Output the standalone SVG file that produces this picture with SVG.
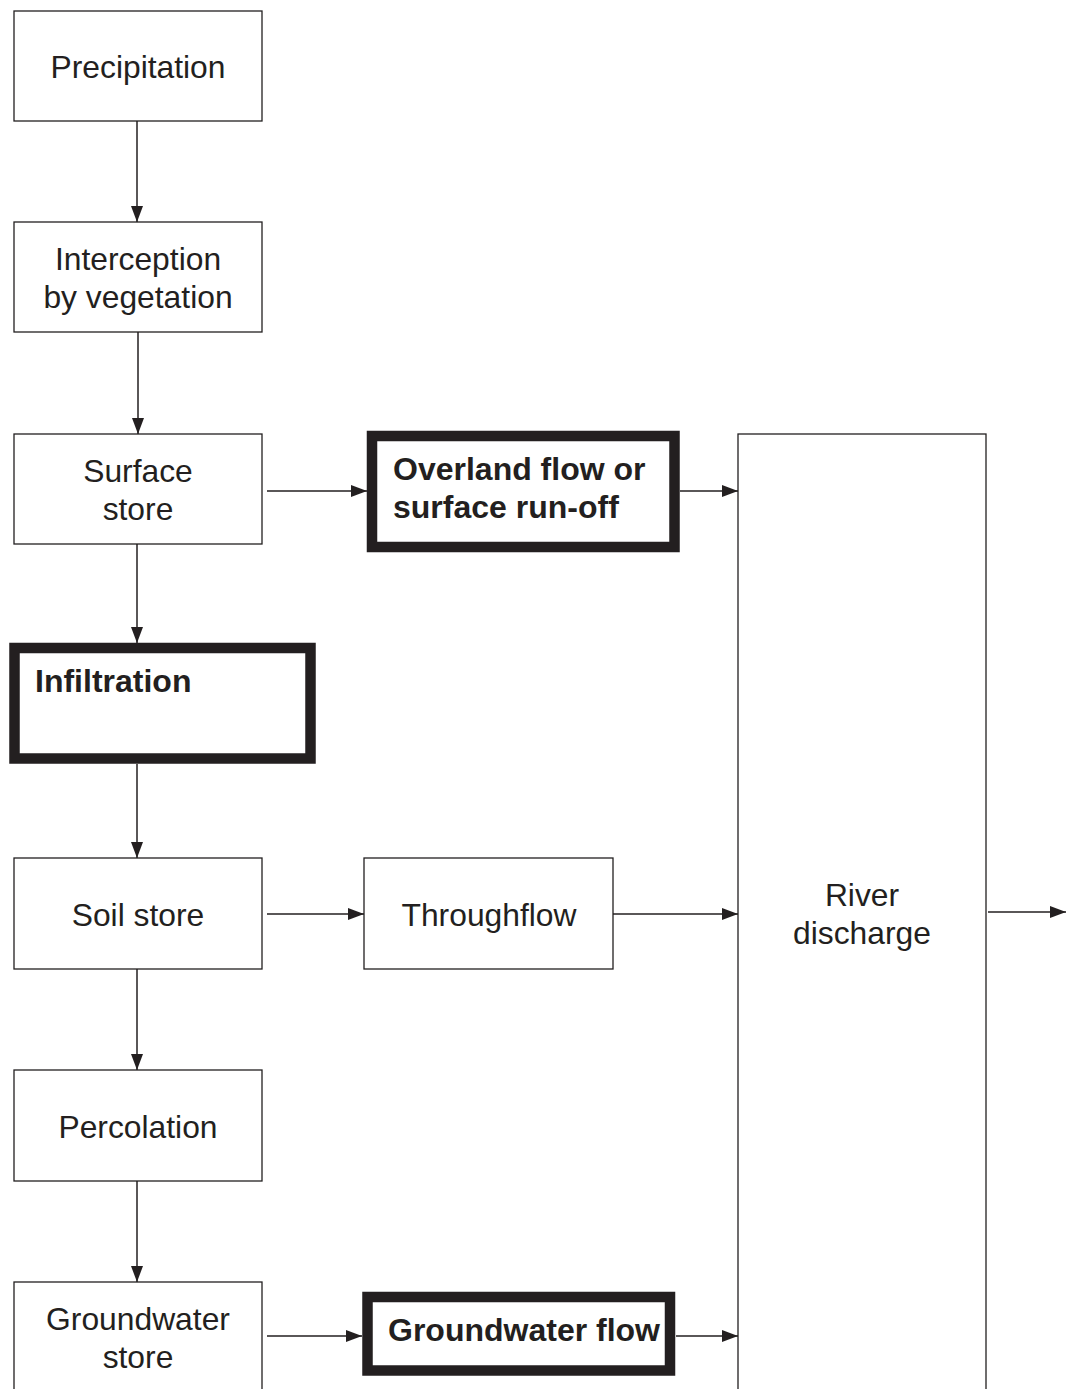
<svg xmlns="http://www.w3.org/2000/svg" width="1066" height="1389" viewBox="0 0 1066 1389">
<defs>
<marker id="ah" viewBox="0 0 16 12" refX="16" refY="6" markerWidth="16" markerHeight="12" markerUnits="userSpaceOnUse" orient="auto">
<path d="M0,0 L16,6 L0,12 Z" fill="#231f20"/>
</marker>
<style>
.box{fill:#fff;stroke:#231f20;stroke-width:1.3}
.thick{fill:#fff;stroke:#231f20;stroke-width:10.5}
.t{font-family:"Liberation Sans",Arial,sans-serif;font-size:31.8px;fill:#231f20;text-anchor:middle}
.b{font-family:"Liberation Sans",Arial,sans-serif;font-size:32px;font-weight:bold;fill:#231f20}
.c{stroke:#231f20;stroke-width:1.5;fill:none;marker-end:url(#ah)}
</style>
</defs>
<rect width="1066" height="1389" fill="#fff"/>
<g id="connectors">
<line class="c" x1="137" y1="121" x2="137" y2="222"/>
<line class="c" x1="138" y1="332" x2="138" y2="434"/>
<line class="c" x1="137" y1="544" x2="137" y2="643"/>
<line class="c" x1="137" y1="764" x2="137" y2="858"/>
<line class="c" x1="137" y1="969" x2="137" y2="1070"/>
<line class="c" x1="137" y1="1181" x2="137" y2="1282"/>
<line class="c" x1="267" y1="491" x2="367" y2="491"/>
<line class="c" x1="680" y1="491" x2="738" y2="491"/>
<line class="c" x1="267" y1="914" x2="364" y2="914"/>
<line class="c" x1="613" y1="914" x2="738" y2="914"/>
<line class="c" x1="267" y1="1336" x2="362" y2="1336"/>
<line class="c" x1="676" y1="1336" x2="738" y2="1336"/>
<line class="c" x1="988" y1="912" x2="1066" y2="912"/>
</g>
<g id="precipitation"><rect class="box" x="14" y="11" width="248" height="110"/><text class="t" x="138" y="78">Precipitation</text></g>
<g id="interception"><rect class="box" x="14" y="222" width="248" height="110"/><text class="t" x="138" y="270">Interception</text><text class="t" x="138" y="308">by vegetation</text></g>
<g id="surface-store"><rect class="box" x="14" y="434" width="248" height="110"/><text class="t" x="138" y="482">Surface</text><text class="t" x="138" y="520">store</text></g>
<g id="overland-flow"><rect class="thick" x="372" y="436" width="302.5" height="111"/><text class="b" x="393" y="480">Overland flow or</text><text class="b" x="393" y="518">surface run-off</text></g>
<g id="infiltration"><rect class="thick" x="14.5" y="648" width="296" height="110.5"/><text class="b" x="35" y="692">Infiltration</text></g>
<g id="soil-store"><rect class="box" x="14" y="858" width="248" height="111"/><text class="t" x="138" y="926">Soil store</text></g>
<g id="throughflow"><rect class="box" x="364" y="858" width="249" height="111"/><text class="t" x="489" y="926">Throughflow</text></g>
<g id="percolation"><rect class="box" x="14" y="1070" width="248" height="111"/><text class="t" x="138" y="1138">Percolation</text></g>
<g id="groundwater-store"><rect class="box" x="14" y="1282" width="248" height="130"/><text class="t" x="138" y="1330">Groundwater</text><text class="t" x="138" y="1368">store</text></g>
<g id="groundwater-flow"><rect class="thick" x="367.5" y="1297" width="302.5" height="73.5"/><text class="b" x="388" y="1341">Groundwater flow</text></g>
<g id="river-discharge"><rect class="box" x="738" y="434" width="248" height="980"/><text class="t" x="862" y="906">River</text><text class="t" x="862" y="944">discharge</text></g>
</svg>
